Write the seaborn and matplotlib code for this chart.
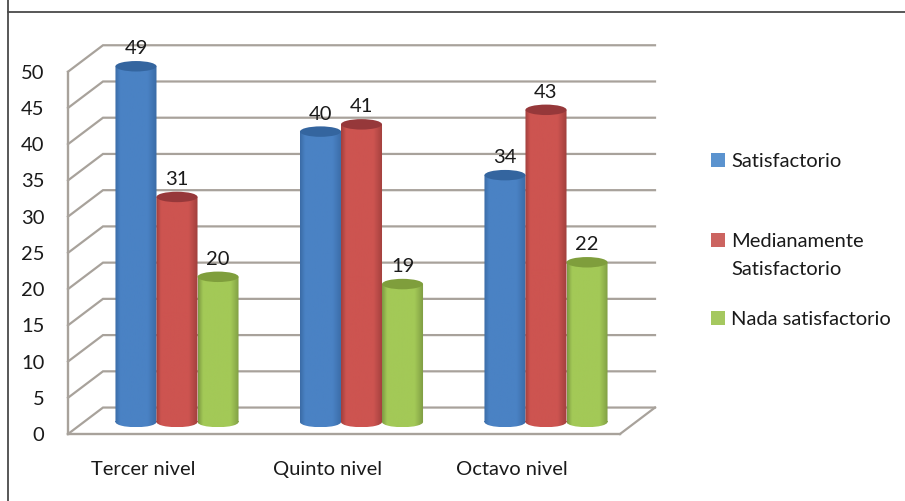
import numpy as np
import pandas as pd
import matplotlib
matplotlib.use("Agg")
import matplotlib.pyplot as plt
import seaborn as sns
from matplotlib.colors import LinearSegmentedColormap
from matplotlib.lines import Line2D
from matplotlib.patches import Ellipse, Rectangle, PathPatch, Patch
from matplotlib.path import Path
from matplotlib.transforms import ScaledTranslation

categories = ["Tercer nivel", "Quinto nivel", "Octavo nivel"]
series_names = ["Satisfactorio", "Medianamente\nSatisfactorio", "Nada satisfactorio"]
satisfactorio = [49, 40, 34]
medianamente = [31, 41, 43]
nada = [20, 19, 22]
y_ticks = [0, 5, 10, 15, 20, 25, 30, 35, 40, 45, 50]

W, H = 905, 501
FONT = "Lato"
TEXT = "#1a1a1a"
GRID = "#a8a29b"
FS = 14.5
plt.rcParams["font.family"] = [FONT, "DejaVu Sans"]

def rect(l, t, r, b):
    return [l / W, 1 - b / H, (r - l) / W, (b - t) / H]

fig = plt.figure(figsize=(W / 100, H / 100), dpi=100, facecolor="white")

# page frame
fig.add_artist(Line2D([8 / W, 8 / W], [0, 1], color="#4a4a4a", lw=1.3))
fig.add_artist(Line2D([8 / W, 1], [1 - 12 / H, 1 - 12 / H], color="#4a4a4a", lw=1.3))

# wall axes (front plane, holds the y ticks)
wall = fig.add_axes(rect(68, 71.7, 620, 434), facecolor="none")
wall.set_xlim(0, 552)
wall.set_ylim(0, 50)
wall.set_xticks([])
wall.set_yticks(y_ticks)
wall.tick_params(axis="y", length=0, pad=17, labelsize=FS, labelcolor=TEXT)
for s in ("top", "right"):
    wall.spines[s].set_visible(False)
for s in ("left", "bottom"):
    wall.spines[s].set_color(GRID)
    wall.spines[s].set_linewidth(1.7)
dx, dy = 35, 3.65
for v in y_ticks:
    wall.plot([0, dx, 587], [v, v + dy, v + dy], color=GRID, lw=1.6, clip_on=False,
              solid_joinstyle="miter")
wall.plot([552, 587], [0, dy], color=GRID, lw=1.6, clip_on=False)

# bars
df = pd.DataFrame({
    "nivel": categories * 3,
    "serie": [n for n in series_names for _ in categories],
    "valor": satisfactorio + medianamente + nada,
})
ax = fig.add_axes(rect(84.75, 22.7, 638.25, 458.3), facecolor="none")
palette = dict(zip(series_names, ["#4a80c0", "#cc5350", "#a2c655"]))
sns.barplot(data=df, x="nivel", y="valor", hue="serie", palette=palette, saturation=1,
            width=0.667, gap=0, legend=False, ax=ax)
edges = ["#3a6ba6", "#a03f3d", "#7d9a42"]
mids = ["#4a82c4", "#cd5450", "#a3c957"]
tops = ["#34659f", "#96383a", "#7f9e3c"]
RY = 0.72
grad = np.linspace(0, 1, 128).reshape(1, -1)
for i, cont in enumerate(ax.containers):
    cmap = LinearSegmentedColormap.from_list("c", [(0, edges[i]), (0.12, mids[i]), (0.78, mids[i]),
                                                   (1, edges[i])])
    for bar in cont:
        x, w, h = bar.get_x(), bar.get_width(), bar.get_height()
        bar.set_visible(False)
        im = ax.imshow(grad, extent=(x, x + w, -RY, h), aspect="auto", cmap=cmap, zorder=3 + 0.1 * i)
        clip_rect = Rectangle((x, 0), w, h, transform=ax.transData)
        clip_ell = Ellipse((x + w / 2, 0), w, 2 * RY, transform=ax.transData)
        p = Path.make_compound_path(Path(clip_rect.get_path().vertices @ np.diag([w, h]) + [x, 0]),
                                    clip_ell.get_path().transformed(clip_ell.get_patch_transform()))
        im.set_clip_path(PathPatch(p, transform=ax.transData))
        ax.add_patch(Ellipse((x + w / 2, h), w, 2 * RY, facecolor=tops[i], edgecolor="none",
                             zorder=3.5 + 0.1 * i))
    ax.bar_label(cont, labels=[str(int(b.get_height())) for b in cont], padding=6.5,
                 fontsize=FS, color=TEXT, zorder=6)
ax.set_xlim(-0.5, 2.5)
ax.set_ylim(-5, 55)
ax.set_yticks([])
ax.set_xlabel("")
ax.set_ylabel("")
ax.tick_params(axis="x", length=0, pad=2, labelsize=FS, labelcolor=TEXT)
for s in ax.spines.values():
    s.set_visible(False)
shift = ScaledTranslation(-34 / 100, 0, fig.dpi_scale_trans)
for lab in ax.get_xticklabels():
    lab.set_transform(lab.get_transform() + shift)

# legend entries, placed one by one since the gaps are irregular
leg_colors = ["#5b93cf", "#cc6460", "#a5c85f"]
leg_tops = [153, 233, 311]
for name, col, top in zip(series_names, leg_colors, leg_tops):
    leg = fig.legend(handles=[Patch(facecolor=col, edgecolor="none", label=name)],
                     loc="upper left", bbox_to_anchor=(711 / W, 1 - top / H), frameon=False,
                     borderpad=0, borderaxespad=0, fontsize=FS, handlelength=0.7,
                     handleheight=0.7, handletextpad=0.3, labelcolor=TEXT)
    for t in leg.get_texts():
        t.set_linespacing(1.75)
    for hp in leg._legend_handle_box.get_children()[0].get_children():
        hp.align = "top"

fig.savefig("out.png", dpi=100, facecolor="white")
